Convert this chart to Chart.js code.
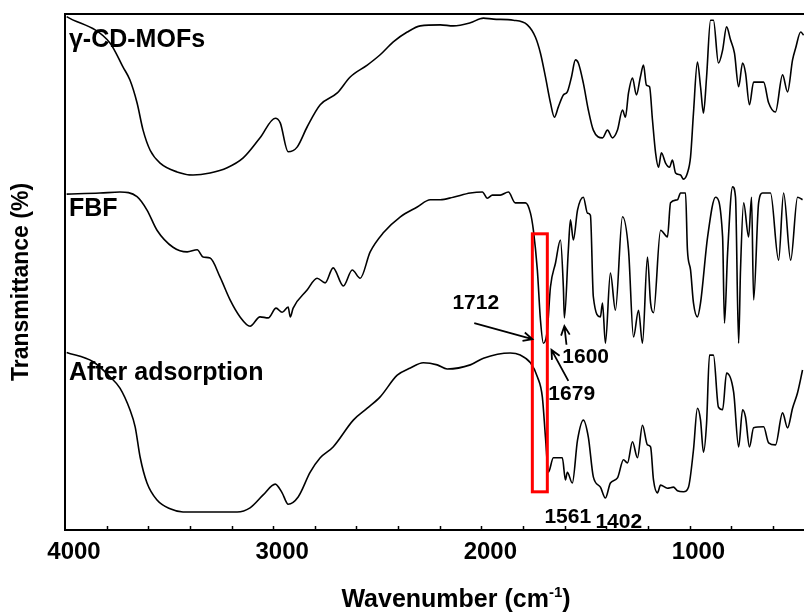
<!DOCTYPE html>
<html>
<head>
<meta charset="utf-8">
<script src="https://cdn.jsdelivr.net/npm/chart.js@4.4.1/dist/chart.umd.min.js"></script>
<style>
  html, body { margin: 0; padding: 0; background: #fff; }
  canvas { display: block; }
</style>
</head>
<body>
<canvas id="ftirChart" width="804" height="613"></canvas>
<script>
// Spectra: wavenumber (cm-1) and transmittance (offset, arbitrary %)
const mofWavenumber = [3992,3784,3721,3688,3654,3625,3591,3543,3462,3385,3303,3221,3144,3063,2990,2966,2928,2885,2837,2774,2692,2630,2548,2486,2423,2356,2293,2197,2135,2053,1990,1942,1846,1779,1740,1716,1692,1668,1649,1630,1606,1587,1567,1548,1534,1510,1486,1462,1418,1394,1370,1346,1322,1308,1293,1274,1255,1236,1221,1207,1192,1178,1163,1149,1135,1115,1096,1082,1067,1043,1029,1010,995,981,962,947,933,918,899,885,861,841,822,803,784,764,745,731,712,692,644,620,587,553,529,505,490,466,452];
const mofTransmittance = [99.5,94.4,89.7,87.2,82.8,77.5,73.6,71.1,69.4,68.8,69.2,70.2,72.1,76.0,79.8,78.9,73.3,74.2,78.1,82.4,84.7,87.8,90.1,92.1,94.6,96.5,97.7,97.9,97.7,98.3,99.2,99.0,98.8,97.9,95.5,92.4,87.8,82.8,80.0,82.0,84.3,84.9,87.8,91.1,90.5,86.6,81.4,77.5,76.0,77.5,76.0,77.5,81.4,80.0,84.7,87.6,84.3,87.8,90.1,86.2,85.9,79.5,73.1,70.3,73.1,71.1,70.3,71.7,69.2,68.8,68.0,69.2,72.3,80.8,90.7,85.9,80.8,87.8,98.8,98.8,90.5,93.0,97.5,95.0,92.4,85.9,90.5,88.6,82.4,86.8,86.8,82.8,81.0,88.2,84.9,91.1,93.4,96.5,95.9];

const fbfWavenumber = [3992,3832,3736,3654,3606,3558,3481,3413,3365,3337,3303,3255,3207,3159,3111,3063,3024,2986,2957,2928,2918,2904,2837,2789,2750,2712,2663,2620,2582,2534,2471,2389,2308,2245,2197,2135,2053,1995,1971,1947,1909,1870,1837,1788,1764,1750,1731,1716,1702,1683,1668,1644,1620,1606,1601,1582,1572,1558,1538,1510,1490,1476,1462,1428,1418,1404,1380,1356,1322,1293,1269,1245,1226,1202,1187,1173,1139,1106,1091,1058,1043,1019,1010,995,981,962,947,913,875,841,832,817,793,779,764,755,740,716,702,692,668,649,611,572,548,514,481,457];
const fbfTransmittance = [65.1,65.3,65.5,64.6,62.0,58.1,54.8,53.9,54.3,52.9,52.7,49.0,44.6,41.3,39.5,41.3,41.1,43.0,42.2,43.2,41.3,43.0,46.5,48.8,47.9,50.8,47.3,50.4,48.8,53.9,57.6,60.7,62.6,64.0,64.0,64.5,65.3,65.5,64.3,64.9,64.9,65.5,63.4,63.4,61.4,58.1,50.4,40.7,36.2,38.8,47.1,51.7,56.2,47.1,41.1,54.3,60.1,56.2,62.0,64.5,61.4,61.0,45.2,41.3,44.0,36.2,49.8,42.6,60.7,54.3,37.4,42.6,36.2,52.9,44.0,42.1,58.1,56.8,63.4,64.0,65.3,65.3,54.3,50.4,44.0,41.3,44.0,56.8,64.5,56.8,40.1,53.7,66.5,64.5,36.2,50.4,63.4,56.8,64.5,44.6,63.4,65.3,65.3,52.3,65.3,52.3,64.5,64.0];

const afterWavenumber = [3992,3865,3784,3736,3688,3663,3639,3606,3558,3495,3433,3303,3173,3111,3048,2990,2957,2928,2880,2822,2774,2712,2615,2548,2486,2404,2341,2279,2212,2164,2053,1990,1861,1813,1764,1731,1707,1692,1678,1654,1611,1596,1587,1563,1538,1510,1486,1462,1428,1404,1380,1346,1317,1298,1274,1250,1226,1202,1187,1173,1154,1139,1106,1077,1058,1029,1005,981,962,947,933,918,904,885,861,841,822,788,764,745,731,712,692,644,620,587,553,529,505,481,457];
const afterTransmittance = [34.4,32.6,29.7,27.5,23.3,20.0,14.1,9.1,5.8,4.1,3.5,3.5,3.5,4.3,6.8,8.9,7.2,5.0,6.4,11.2,14.0,16.1,21.3,23.6,25.8,30.0,31.4,32.4,32.0,31.2,32.0,33.3,34.3,33.9,32.4,29.7,25.8,18.0,11.2,14.0,14.0,9.7,11.2,9.1,17.4,21.3,18.0,10.3,8.3,6.2,9.1,10.1,13.6,13.0,17.1,14.0,20.3,16.5,16.1,9.7,7.2,8.7,8.1,8.3,7.6,7.4,8.3,15.5,23.6,21.3,15.1,20.7,33.9,33.9,23.8,23.3,30.4,26.7,16.1,23.3,21.9,16.1,19.8,20.0,16.9,16.5,22.7,19.8,23.6,26.6,31.0];

const seriesNames = ['γ-CD-MOFs', 'FBF', 'After adsorption'];
const xTickValues = [4000, 3000, 2000, 1000];
const xMinorTicks = [3800, 3600, 3400, 3200, 3000, 2800, 2600, 2400, 2200, 2000, 1800, 1600, 1400, 1200, 1000, 800, 600];

// peak labels: [text, wavenumber, transmittance] (left edge / baseline)
const peakLabels = [
  ['1712', 2139, 42.8],
  ['1600', 1611, 32.4],
  ['1679', 1678, 25.2],
  ['1561', 1697, 1.4],
  ['1402', 1452, 0.4]
];
// arrows: tail -> head, in data units
const peakArrows = [
  [2034, 40.1, 1755, 37.0],
  [1582, 28.9, 1663, 34.9],
  [1591, 35.9, 1601, 39.5]
];
// series name positions (wavenumber, transmittance at baseline)
const nameAnchors = [[3981, 93.6], [3981, 60.9], [3981, 29.1]];
// red box around the C=O band
const highlightBox = [1755, 57.4, 1683, 7.4];

const FONT = '"Liberation Sans", Arial, Helvetica, sans-serif';
Chart.defaults.font.family = FONT;
Chart.defaults.color = '#000';

function toPoints(xs, ys) {
  return xs.map((x, i) => ({ x: x, y: ys[i] }));
}

function drawArrow(ctx, x1, y1, x2, y2) {
  const ang = Math.atan2(y2 - y1, x2 - x1);
  const len = 10;
  ctx.beginPath();
  ctx.moveTo(x1, y1);
  ctx.lineTo(x2, y2);
  ctx.moveTo(x2 - len * Math.cos(ang - 0.45), y2 - len * Math.sin(ang - 0.45));
  ctx.lineTo(x2, y2);
  ctx.lineTo(x2 - len * Math.cos(ang + 0.45), y2 - len * Math.sin(ang + 0.45));
  ctx.stroke();
}

const decorations = {
  id: 'decorations',
  afterDraw(chart) {
    const { ctx, chartArea: a, scales: { x, y } } = chart;
    ctx.save();
    ctx.strokeStyle = '#000';
    ctx.fillStyle = '#000';

    // top frame line
    ctx.lineWidth = 2;
    ctx.beginPath();
    ctx.moveTo(a.left - 1, a.top);
    ctx.lineTo(a.right, a.top);
    ctx.stroke();

    // inward tick marks
    ctx.lineWidth = 1.5;
    xMinorTicks.forEach(v => {
      const px = Math.round(x.getPixelForValue(v)) + 0.5;
      ctx.beginPath();
      ctx.moveTo(px, a.bottom);
      ctx.lineTo(px, a.bottom - 4);
      ctx.stroke();
    });

    // red highlight box
    ctx.strokeStyle = '#ff0000';
    ctx.lineWidth = 3;
    const bx1 = x.getPixelForValue(highlightBox[0]);
    const by1 = y.getPixelForValue(highlightBox[1]);
    const bx2 = x.getPixelForValue(highlightBox[2]);
    const by2 = y.getPixelForValue(highlightBox[3]);
    ctx.strokeRect(bx1, by1, bx2 - bx1, by2 - by1);

    // arrows
    ctx.strokeStyle = '#000';
    ctx.lineWidth = 1.8;
    peakArrows.forEach(p => {
      drawArrow(ctx, x.getPixelForValue(p[0]), y.getPixelForValue(p[1]),
        x.getPixelForValue(p[2]), y.getPixelForValue(p[3]));
    });

    // peak numbers
    ctx.textAlign = 'left';
    ctx.textBaseline = 'alphabetic';
    ctx.font = 'bold 21px ' + FONT;
    peakLabels.forEach(p => {
      ctx.fillText(p[0], x.getPixelForValue(p[1]), y.getPixelForValue(p[2]));
    });

    // series names
    ctx.font = 'bold 25px ' + FONT;
    seriesNames.forEach((name, i) => {
      ctx.fillText(name, x.getPixelForValue(nameAnchors[i][0]), y.getPixelForValue(nameAnchors[i][1]));
    });

    // x axis title with superscript
    const big = 'bold 25px ' + FONT;
    const small = 'bold 15px ' + FONT;
    ctx.font = big;
    const partA = 'Wavenumber (cm';
    const wA = ctx.measureText(partA).width;
    const wC = ctx.measureText(')').width;
    ctx.font = small;
    const wB = ctx.measureText('-1').width;
    let tx = 456 - (wA + wB + wC) / 2;
    const ty = 607;
    ctx.font = big;
    ctx.fillText(partA, tx, ty);
    ctx.font = small;
    ctx.fillText('-1', tx + wA, ty - 10);
    ctx.font = big;
    ctx.fillText(')', tx + wA + wB, ty);

    // y axis title
    ctx.translate(22, 282);
    ctx.rotate(-Math.PI / 2);
    ctx.textAlign = 'center';
    ctx.textBaseline = 'middle';
    ctx.font = 'bold 23px ' + FONT;
    ctx.fillText('Transmittance (%)', 0, 0);

    ctx.restore();
  }
};

const lineStyle = { borderColor: '#000', borderWidth: 1.6, pointRadius: 0, fill: false, cubicInterpolationMode: 'monotone' };

new Chart(document.getElementById('ftirChart').getContext('2d'), {
  type: 'line',
  data: {
    datasets: [
      Object.assign({ label: seriesNames[0], data: toPoints(mofWavenumber, mofTransmittance) }, lineStyle),
      Object.assign({ label: seriesNames[1], data: toPoints(fbfWavenumber, fbfTransmittance) }, lineStyle),
      Object.assign({ label: seriesNames[2], data: toPoints(afterWavenumber, afterTransmittance) }, lineStyle)
    ]
  },
  options: {
    responsive: false,
    animation: false,
    devicePixelRatio: 1,
    layout: { padding: { top: 14, right: 0, left: 0, bottom: 0 } },
    plugins: {
      legend: { display: false },
      tooltip: { enabled: false }
    },
    scales: {
      x: {
        type: 'linear',
        reverse: true,
        min: 450,
        max: 4000,
        afterBuildTicks: scale => { scale.ticks = xTickValues.map(v => ({ value: v })); },
        afterFit: scale => { scale.height = 83; },
        grid: { display: false },
        border: { display: true, color: '#000', width: 2 },
        ticks: {
          font: { size: 24, weight: 'bold' },
          color: '#000',
          padding: 0,
          labelOffset: 9,
          maxRotation: 0,
          autoSkip: false,
          callback: v => String(v)
        }
      },
      y: {
        min: 0,
        max: 100,
        afterFit: scale => { scale.width = 65; },
        grid: { display: false },
        border: { display: true, color: '#000', width: 2 },
        ticks: { display: false }
      }
    }
  },
  plugins: [decorations]
});
</script>
</body>
</html>
